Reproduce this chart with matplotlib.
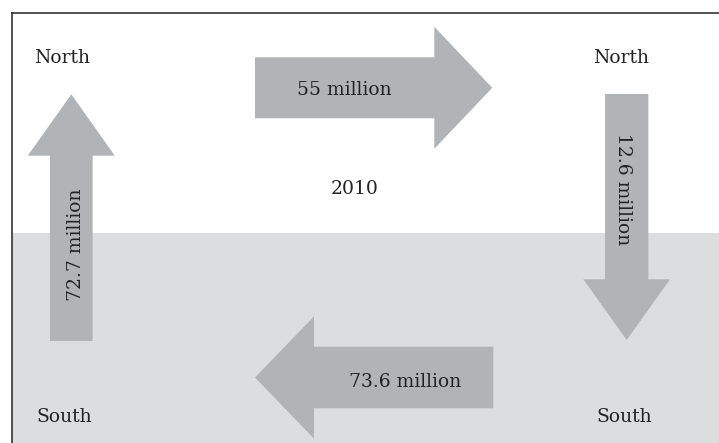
import matplotlib.pyplot as plt
from matplotlib.patches import FancyArrow, Rectangle

# data
regions = ["North", "South"]
year = "2010"
flow_labels = ["55 million", "12.6 million", "73.6 million", "72.7 million"]
# flow direction: N->N (top), N->S (right), S->S (bottom), S->N (left)

W, H = 719, 443
arrow_color = "#b1b4b7"
band_color = "#dcdddf"
text_color = "#222222"
fs = 13.5
font = "DejaVu Serif"

fig = plt.figure(figsize=(W / 100, H / 100), dpi=100)
ax = fig.add_axes([0, 0, 1, 1])
ax.set_xlim(0, W)
ax.set_ylim(H, 0)
ax.axis("off")

# lower (south) band
ax.add_patch(Rectangle((12, 233), W - 12, H - 233, color=band_color, lw=0))
# frame lines (top and left only)
ax.plot([11.7, W], [13, 13], color="#333333", lw=1.2)
ax.plot([11.7, 11.7], [13, H], color="#333333", lw=1.2)

# arrows: (x, y, dx, dy, width, head_width, head_length)
arrows = [
    (255, 87.8, 237.3, 0, 61, 122, 58),        # top, to the right
    (626.7, 94, 0, 246, 43.3, 86.7, 60.7),     # right, down
    (493.3, 377.5, -238.3, 0, 61.6, 122.3, 59), # bottom, to the left
    (71.3, 341, 0, -246.7, 42.7, 87, 61.4),    # left, up
]
for x, y, dx, dy, w, hw, hl in arrows:
    ax.add_patch(FancyArrow(x, y, dx, dy, width=w, head_width=hw, head_length=hl,
                            length_includes_head=True, color=arrow_color, lw=0))

kw = dict(fontsize=fs, family=font, color=text_color)

# region labels
ax.text(62.5, 63.3, regions[0], ha="center", va="baseline", **kw)
ax.text(621.5, 63.3, regions[0], ha="center", va="baseline", **kw)
ax.text(64, 422.5, regions[1], ha="center", va="baseline", **kw)
ax.text(624, 422.5, regions[1], ha="center", va="baseline", **kw)

ax.text(354.5, 194.3, year, ha="center", va="baseline", **kw)

# flow labels
ax.text(344, 95, flow_labels[0], ha="center", va="baseline", **kw)
ax.text(618.3, 189, flow_labels[1], ha="center", va="baseline",
        rotation=-90, rotation_mode="anchor", **kw)
ax.text(405, 387.3, flow_labels[2], ha="center", va="baseline", **kw)
ax.text(81, 244.5, flow_labels[3], ha="center", va="baseline",
        rotation=90, rotation_mode="anchor", **kw)

fig.savefig("out.png", dpi=100)
